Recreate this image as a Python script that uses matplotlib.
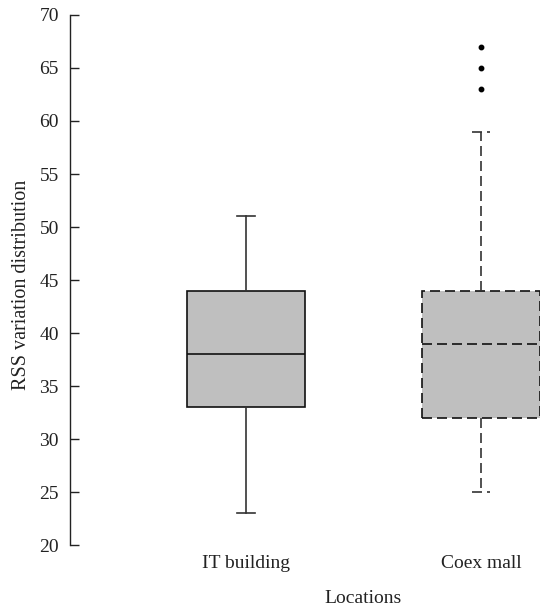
import matplotlib
matplotlib.use("Agg")
import matplotlib.pyplot as plt

categories = ["IT building", "Coex mall"]
whislo = [23, 25]
q1 = [33, 32]
med = [38, 39]
q3 = [44, 44]
whishi = [51, 59]
fliers = [[], [63, 65, 67]]
yticks = [20, 25, 30, 35, 40, 45, 50, 55, 60, 65, 70]

plt.rcParams['font.family'] = ['Liberation Serif', 'DejaVu Serif']

fig = plt.figure(figsize=(5.4, 6.07), dpi=100)
ax = fig.add_axes([0.1296, 0.1021, 0.8704, 0.8732])

dash = (0, (6, 3))
for i, lab in enumerate(categories):
    st = [dict(label=lab, whislo=whislo[i], q1=q1[i], med=med[i], q3=q3[i],
               whishi=whishi[i], fliers=fliers[i])]
    ls = '-' if i == 0 else dash
    ax.bxp(st, positions=[i + 1], widths=0.5, capwidths=0.077, patch_artist=True,
           boxprops=dict(facecolor='#bfbfbf', edgecolor='#111111', linewidth=1.2, linestyle=ls),
           whiskerprops=dict(color='#333333', linewidth=1.2, linestyle=ls),
           capprops=dict(color='#333333', linewidth=1.2, linestyle=ls),
           medianprops=dict(color='#111111', linewidth=1.2, linestyle=ls),
           flierprops=dict(marker='o', markerfacecolor='black', markeredgecolor='black', markersize=3.2),
           showfliers=True)

ax.set_xlim(0.25, 2.25)
ax.set_ylim(20, 70)
ax.set_yticks(yticks)
ax.set_xticks([1, 2])
ax.set_xticklabels(categories)
for s in ['top', 'right', 'bottom']:
    ax.spines[s].set_visible(False)
ax.spines['left'].set_linewidth(1.0)
ax.spines['left'].set_color('#222222')
ax.tick_params(axis='y', direction='in', length=6.5, width=1.0, labelsize=14, pad=8, colors='#222222')
ax.tick_params(axis='x', length=0, labelsize=14, pad=7, colors='#222222')
ax.set_ylabel('RSS variation distribution', fontsize=14.5, color='#222222')
ax.yaxis.set_label_coords(-0.083, 0.49)
xl = ax.set_xlabel('Locations', fontsize=14, color='#222222')
xl.set_va('baseline')
ax.xaxis.set_label_coords(0.623, -0.1094)

fig.savefig('out.png', dpi=100)
